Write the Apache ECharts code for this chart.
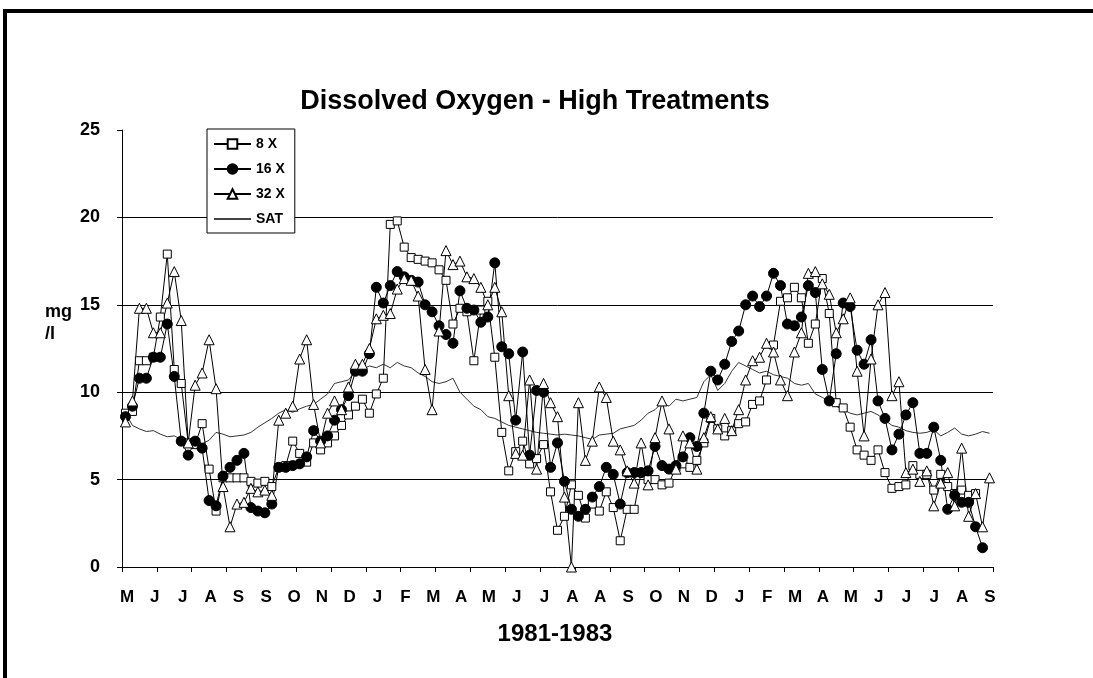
<!DOCTYPE html>
<html>
<head>
<meta charset="utf-8">
<title>Dissolved Oxygen - High Treatments</title>
<script src="https://cdn.jsdelivr.net/npm/echarts@6.0.0/dist/echarts.min.js"></script>
<style>
  html, body { margin: 0; padding: 0; background: #fff; }
  #chart { width: 1093px; height: 678px; }
</style>
</head>
<body>
<div id="chart"></div>
<script>
// Weekly dissolved oxygen readings (mg/l), May 1981 - Sep 1983
const eightX = [
  8.8, 8.9, 11.8, 11.8, 12.0, 14.3, 17.9, 11.3, 10.5, 7.1,
  7.0, 8.2, 5.6, 3.2, 5.1, 5.1, 5.1, 5.1, 4.9, 4.8,
  4.9, 4.6, 5.7, 5.8, 7.2, 6.5, 6.0, 7.1, 6.7, 7.1,
  7.5, 8.1, 8.7, 9.2, 9.6, 8.8, 9.9, 10.8, 19.6, 19.8,
  18.3, 17.7, 17.6, 17.5, 17.4, 17.0, 16.4, 13.9, 14.8, 14.6,
  11.8, 14.7, 15.2, 12.0, 7.7, 5.5, 6.6, 7.2, 5.9, 6.2,
  7.0, 4.3, 2.1, 2.9, 4.7, 4.1, 2.8, 3.6, 3.2, 4.3,
  3.4, 1.5, 3.3, 3.3, 5.4, 5.0, 5.0, 4.7, 4.8, 5.7,
  5.9, 5.7, 6.1, 7.1, 8.5, 7.9, 7.5, 7.8, 8.2, 8.3,
  9.3, 9.5, 10.7, 12.7, 15.2, 15.4, 16.0, 15.4, 12.8, 13.9,
  16.5, 14.5, 9.4, 9.1, 8.0, 6.7, 6.4, 6.1, 6.7, 5.4,
  4.5, 4.6, 4.7, 5.8, 5.3, 5.3, 4.4, 5.3, 4.6, 4.2,
  4.4, 4.1, 4.2, null, null
];

const sixteenX = [
  8.6, 9.2, 10.8, 10.8, 12.0, 12.0, 13.9, 10.9, 7.2, 6.4,
  7.2, 6.8, 3.8, 3.5, 5.2, 5.7, 6.1, 6.5, 3.4, 3.2,
  3.1, 3.6, 5.7, 5.7, 5.8, 5.9, 6.3, 7.8, 7.2, 7.5,
  8.4, 9.0, 9.8, 11.2, 11.2, 12.2, 16.0, 15.1, 16.1, 16.9,
  16.6, 16.4, 16.3, 15.0, 14.6, 13.8, 13.3, 12.8, 15.8, 14.8,
  14.7, 14.0, 14.3, 17.4, 12.6, 12.2, 8.4, 12.3, 6.4, 10.1,
  10.0, 5.7, 7.1, 4.9, 3.3, 2.9, 3.3, 4.0, 4.6, 5.7,
  5.3, 3.6, 5.4, 5.4, 5.4, 5.5, 6.9, 5.8, 5.6, 5.8,
  6.3, 7.4, 6.9, 8.8, 11.2, 10.7, 11.6, 12.9, 13.5, 15.0,
  15.5, 14.9, 15.5, 16.8, 16.1, 13.9, 13.8, 14.3, 16.1, 15.7,
  11.3, 9.5, 12.2, 15.1, 14.9, 12.4, 11.6, 13.0, 9.5, 8.5,
  6.7, 7.6, 8.7, 9.4, 6.5, 6.5, 8.0, 6.1, 3.3, 4.1,
  3.7, 3.7, 2.3, 1.1, null
];

const thirtyTwoX = [
  8.3, 9.5, 14.8, 14.8, 13.4, 13.4, 15.1, 16.9, 14.1, 7.1,
  10.4, 11.1, 13.0, 10.2, 4.6, 2.3, 3.6, 3.7, 4.5, 4.3,
  4.4, 4.1, 8.4, 8.8, 9.2, 11.9, 13.0, 9.3, 7.1, 8.8,
  9.5, 9.0, 10.3, 11.6, 11.6, 12.5, 14.2, 14.4, 14.5, 15.9,
  16.5, 16.4, 15.5, 11.3, 9.0, 13.5, 18.1, 17.3, 17.5, 16.6,
  16.5, 16.0, 15.0, 16.0, 14.6, 9.8, 6.5, 6.4, 10.7, 5.6,
  10.5, 9.4, 8.6, 4.0, 0.0, 9.4, 6.1, 7.2, 10.3, 9.7,
  7.2, 6.7, 5.5, 4.8, 7.1, 4.7, 7.4, 9.5, 7.9, 5.6,
  7.5, 7.1, 5.6, 7.4, 8.6, 7.9, 8.5, 7.8, 9.0, 10.7,
  11.8, 12.0, 12.8, 12.3, 10.7, 9.8, 12.3, 13.4, 16.8, 16.9,
  16.2, 15.6, 13.4, 14.2, 15.4, 11.2, 7.5, 11.9, 15.0, 15.7,
  9.8, 10.6, 5.4, 5.6, 4.9, 5.5, 3.5, 4.8, 5.4, 3.5,
  6.8, 2.9, 4.2, 2.3, 5.1
];

// Saturation concentration
const sat = [
  8.8, 8.1, 7.9, 7.75, 7.8, 7.6, 7.45, 7.5, 7.3, 7.3,
  7.35, 7.05, 7.25, 7.7, 7.6, 7.45, 7.5, 7.55, 7.7, 8.0,
  8.25, 8.5, 8.8, 9.0, 8.85, 9.05, 9.2, 9.3, 9.6, 9.9,
  10.5, 10.6, 10.7, 11.2, 11.3, 11.5, 11.4, 11.6, 11.4, 11.7,
  11.5, 11.4, 11.1, 10.9, 10.6, 10.5, 10.6, 10.8, 10.0, 9.6,
  9.2, 9.0, 8.6, 8.5, 8.3, 8.1, 8.0, 7.9, 7.8, 7.7,
  7.65, 7.6, 7.55, 7.6, 7.55, 7.5, 7.4, 7.3, 7.55, 7.6,
  7.65, 7.9, 8.0, 8.1, 8.4, 8.8, 9.0, 9.4, 9.2, 9.6,
  9.5, 9.6, 9.7, 10.6, 11.0, 10.1, 10.5, 11.2, 11.7, 11.5,
  11.3, 11.1, 11.2, 11.0, 10.9, 10.8, 10.5, 10.4, 10.5, 9.9,
  9.7, 9.5, 9.2, 9.0, 8.8, 8.7, 8.8, 8.9, 8.7, 8.4,
  8.1, 8.0, 7.8, 7.7, 7.65, 7.7, 7.85, 7.5, 7.7, 7.95,
  7.6, 7.5, 7.6, 7.75, 7.65
];

// Month letters printed under the axis
const monthLabels = ['M', 'J', 'J', 'A', 'S', 'S', 'O', 'N', 'D', 'J', 'F', 'M', 'A', 'M', 'J', 'J',
  'A', 'A', 'S', 'O', 'N', 'D', 'J', 'F', 'M', 'A', 'M', 'J', 'J', 'J', 'A', 'S'];

// Sample number of each weekly reading
const sampleWeeks = sat.map((_, i) => String(i + 1));

const FONT = '"Liberation Sans", Arial, sans-serif';

function markerSeries(name, data, symbol, size, fill) {
    return {
        name: name,
        type: 'line',
        xAxisIndex: 0,
        yAxisIndex: 0,
        data: data,
        symbol: symbol,
        symbolSize: size,
        showAllSymbol: true,
        connectNulls: false,
        lineStyle: { color: '#000', width: 1 },
        itemStyle: { color: fill, borderColor: '#000', borderWidth: 1 },
        emphasis: { disabled: true }
    };
}

const chart = echarts.init(document.getElementById('chart'));

chart.setOption({
    animation: false,
    backgroundColor: '#fff',
    grid: [
        { left: 122, right: 100, top: 130, bottom: 111 },
        { left: 127, right: 103, top: 130, bottom: 111 }
    ],
    xAxis: [
        {
            type: 'category',
            gridIndex: 0,
            data: sampleWeeks,
            boundaryGap: true,
            axisLine: { lineStyle: { color: '#000', width: 1 } },
            axisTick: { show: true, interval: 4, length: 5, lineStyle: { color: '#000' } },
            axisLabel: { show: false },
            splitLine: { show: false }
        },
        {
            type: 'category',
            gridIndex: 1,
            data: monthLabels,
            boundaryGap: false,
            axisLine: { show: false },
            axisTick: { show: false },
            axisLabel: {
                interval: 0, margin: 22, color: '#000',
                fontFamily: FONT, fontWeight: 'bold', fontSize: 17
            }
        }
    ],
    yAxis: [
        {
            type: 'value',
            gridIndex: 0,
            min: 0,
            max: 25,
            interval: 5,
            axisLine: { show: true, lineStyle: { color: '#000' } },
            axisTick: { show: true, length: 5, lineStyle: { color: '#000' } },
            axisLabel: {
                margin: 22, color: '#000',
                fontFamily: FONT, fontWeight: 'bold', fontSize: 18
            },
            splitLine: { show: true, showMaxLine: false, lineStyle: { color: '#000', width: 1 } }
        },
        { type: 'value', gridIndex: 1, show: false }
    ],
    legend: {
        orient: 'vertical',
        left: 207,
        top: 129,
        backgroundColor: '#fff',
        borderColor: '#000',
        borderWidth: 1,
        borderRadius: 0,
        padding: [8, 10, 7, 6],
        itemWidth: 37,
        itemHeight: 12,
        itemGap: 11,
        textStyle: { fontFamily: FONT, fontWeight: 'bold', fontSize: 14, color: '#000' },
        data: [
            '8 X', '16 X', '32 X',
            // plain line swatch for the saturation curve
            { name: 'SAT', icon: 'path://M0,0 L0,0 M0,5 L37,5 L37,7 L0,7 Z M37,12 L37,12' }
        ]
    },
    series: [
        {
            name: 'SAT',
            type: 'line',
            data: sat,
            symbol: 'none',
            lineStyle: { color: '#333', width: 1 },
            itemStyle: { color: '#444' },
            emphasis: { disabled: true }
        },
        markerSeries('8 X', eightX, 'rect', 8, '#fff'),
        markerSeries('16 X', sixteenX, 'circle', 10, '#000'),
        markerSeries('32 X', thirtyTwoX, 'triangle', 10, '#fff')
    ],
    graphic: [
        { type: 'rect', shape: { x: 3, y: 9, width: 1090, height: 4 }, style: { fill: '#000' }, silent: true },
        { type: 'rect', shape: { x: 3, y: 9, width: 4, height: 669 }, style: { fill: '#000' }, silent: true },
        {
            type: 'text', x: 535, y: 102, silent: true,
            style: {
                text: 'Dissolved Oxygen - High Treatments', fill: '#000',
                font: 'bold 27px "Liberation Sans", Arial, sans-serif',
                align: 'center', verticalAlign: 'middle'
            }
        },
        {
            type: 'text', x: 45, y: 312, silent: true,
            style: { text: 'mg', fill: '#000', font: 'bold 18px "Liberation Sans", Arial, sans-serif', align: 'left', verticalAlign: 'middle' }
        },
        {
            type: 'text', x: 45, y: 334, silent: true,
            style: { text: '/l', fill: '#000', font: 'bold 18px "Liberation Sans", Arial, sans-serif', align: 'left', verticalAlign: 'middle' }
        },
        {
            type: 'text', x: 555, y: 634, silent: true,
            style: { text: '1981-1983', fill: '#000', font: 'bold 24px "Liberation Sans", Arial, sans-serif', align: 'center', verticalAlign: 'middle' }
        }
    ]
});
</script>
</body>
</html>
